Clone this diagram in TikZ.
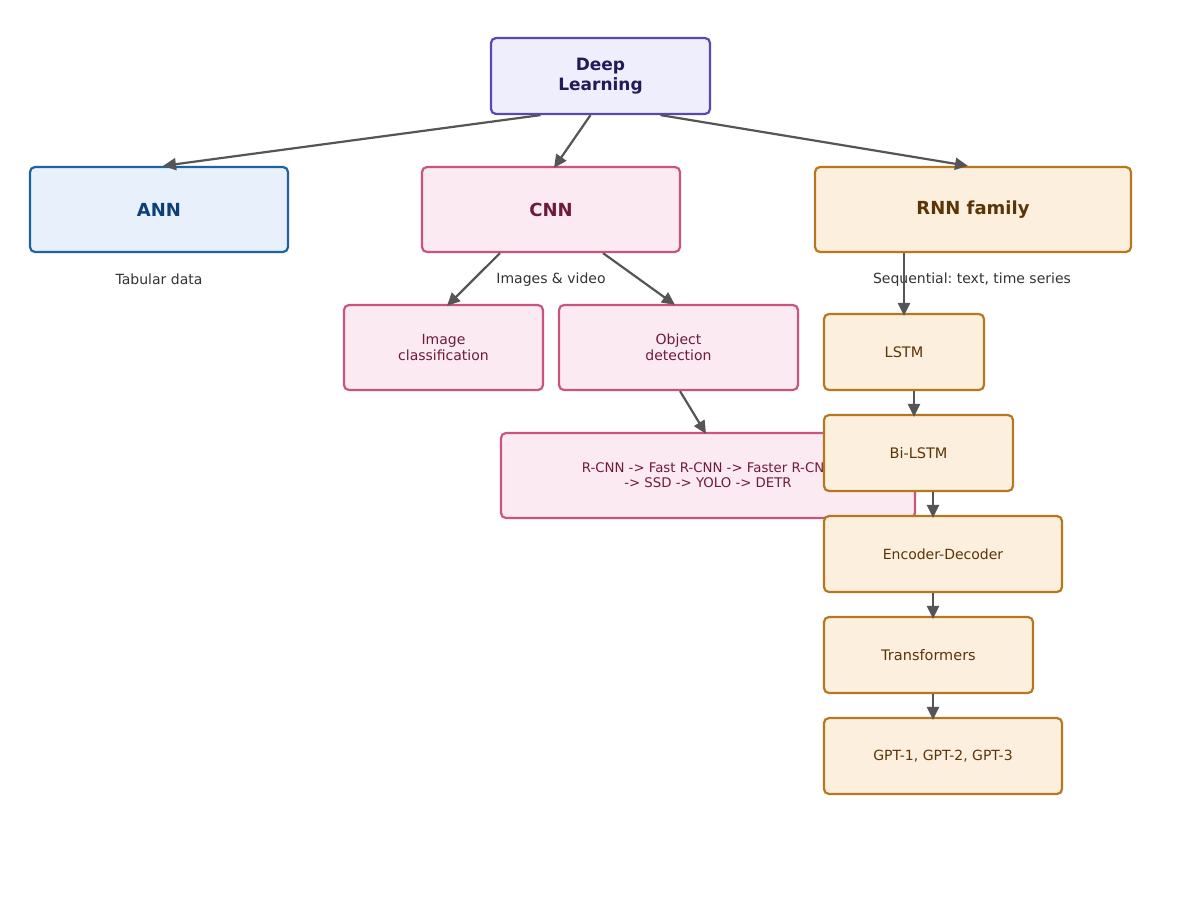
\documentclass[tikz,border=0pt]{standalone}
\usepackage{fontspec}
\setmainfont{DejaVu Sans}
\frenchspacing
\usetikzlibrary{arrows.meta}
\definecolor{dlfill}{HTML}{EEEEFC}
\definecolor{dldraw}{HTML}{5A48B0}
\definecolor{dltext}{HTML}{231A5A}
\definecolor{annfill}{HTML}{E8F1FB}
\definecolor{anndraw}{HTML}{1F62A0}
\definecolor{anntext}{HTML}{0E3F75}
\definecolor{cnnfill}{HTML}{FBEAF1}
\definecolor{cnndraw}{HTML}{C9557F}
\definecolor{cnntext}{HTML}{6E1B3B}
\definecolor{rnnfill}{HTML}{FCEFDD}
\definecolor{rnndraw}{HTML}{B5781F}
\definecolor{rnntext}{HTML}{5A3508}
\definecolor{edgecol}{HTML}{555555}
\definecolor{labcol}{HTML}{333333}
\tikzset{
  box/.style={rectangle, rounded corners=5pt, line width=2.2pt, inner sep=0pt, align=center},
  dlbox/.style={box, fill=dlfill, draw=dldraw, text=dltext, font=\fontsize{17}{20}\selectfont\bfseries},
  annbox/.style={box, fill=annfill, draw=anndraw, text=anntext, font=\fontsize{18}{21}\selectfont\bfseries},
  cnnbox/.style={box, fill=cnnfill, draw=cnndraw, text=cnntext, font=\fontsize{18}{21}\selectfont\bfseries},
  rnnbox/.style={box, fill=rnnfill, draw=rnndraw, text=rnntext, font=\fontsize{18}{21}\selectfont\bfseries},
  cnnsub/.style={box, fill=cnnfill, draw=cnndraw, text=cnntext, font=\fontsize{14}{16}\selectfont},
  rnnsub/.style={box, fill=rnnfill, draw=rnndraw, text=rnntext, font=\fontsize{14.5}{17}\selectfont},
  lab/.style={text=labcol, inner sep=0pt, font=\fontsize{14}{16}\selectfont},
  conn/.style={draw=edgecol, line width=2.2pt, -{Triangle[length=13pt,width=12pt]}},
}
\begin{document}
\begin{tikzpicture}[x=1pt,y=-1pt]
\useasboundingbox (0,0) rectangle (1200,897);
\fill[white] (0,0) rectangle (1200,897);

\node[dlbox, minimum width=219pt, minimum height=76pt] (dl) at (600.5,76) {Deep\\Learning};
\node[annbox, minimum width=258pt, minimum height=85pt] (ann) at (159,209.5) {ANN};
\node[cnnbox, minimum width=258pt, minimum height=85pt] (cnn) at (551,209.5) {CNN};
\node[rnnbox, minimum width=316pt, minimum height=85pt] (rnn) at (973,209.5) {RNN family};

\node[lab] (tab) at (159,279.5) {Tabular data};
\node[lab] (img) at (551,279.5) {Images \& video};
\node[lab] (seq) at (972,279.5) {Sequential: text, time series};

\node[cnnsub, minimum width=199pt, minimum height=85pt] (ic) at (443.5,347.5) {Image\\classification};
\node[cnnsub, minimum width=239pt, minimum height=85pt] (od) at (678.5,347.5) {Object\\detection};
\node[cnnsub, minimum width=414pt, minimum height=85pt, font=\fontsize{13.3}{15}\selectfont] (rc) at (708,475.5) {R-CNN -> Fast R-CNN -> Faster R-CNN\\-> SSD -> YOLO -> DETR};

\node[rnnsub, minimum width=160pt, minimum height=76pt] (lstm) at (904,352) {LSTM};
\node[rnnsub, minimum width=189pt, minimum height=76pt] (bil) at (918.5,453) {Bi-LSTM};
\node[rnnsub, minimum width=238pt, minimum height=76pt, font=\fontsize{14}{16}\selectfont] (ed) at (943,554) {Encoder-Decoder};
\node[rnnsub, minimum width=209pt, minimum height=76pt] (tr) at (928.5,655) {Transformers};
\node[rnnsub, minimum width=238pt, minimum height=76pt, font=\fontsize{14}{16}\selectfont] (gpt) at (943,756) {GPT-1, GPT-2, GPT-3};

\draw[conn] ([xshift=-60pt]dl.south) -- ([xshift=4pt]ann.north);
\draw[conn] ([xshift=-10pt]dl.south) -- ([xshift=3pt,yshift=-2pt]cnn.north);
\draw[conn] ([xshift=60pt]dl.south) -- ([xshift=-5pt]rnn.north);
\draw[conn] ([xshift=-51pt]cnn.south) -- ([xshift=3.5pt,yshift=-2pt]ic.north);
\draw[conn] ([xshift=52pt]cnn.south) -- ([xshift=-3.5pt,yshift=-1pt]od.north);
\draw[conn] ([xshift=1.5pt]od.south) -- ([xshift=-2pt,yshift=-2pt]rc.north);
\draw[conn] ([xshift=-69pt]rnn.south) -- ([yshift=-3pt]lstm.north);
\draw[conn] ([xshift=10pt]lstm.south) -- ([xshift=-4.5pt,yshift=-3pt]bil.north);
\draw[conn] ([xshift=14.5pt]bil.south) -- ([xshift=-10pt,yshift=-3pt]ed.north);
\draw[conn] ([xshift=-10pt]ed.south) -- ([xshift=4.5pt,yshift=-3pt]tr.north);
\draw[conn] ([xshift=4.5pt]tr.south) -- ([xshift=-10pt,yshift=-3pt]gpt.north);
\end{tikzpicture}
\end{document}
